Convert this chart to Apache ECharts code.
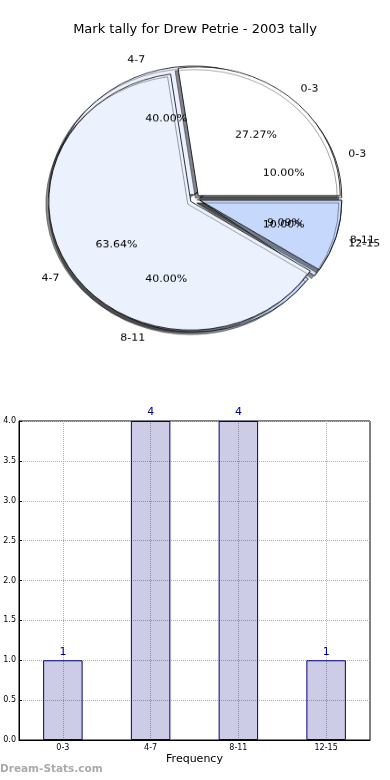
<!DOCTYPE html>
<html><head><meta charset="utf-8">
<script src="https://cdn.jsdelivr.net/npm/echarts@6/dist/echarts.min.js"></script>
<style>
html,body{margin:0;padding:0;background:#fff;}
#bar{position:absolute;left:0;top:0;width:390px;height:780px;}
#pie{position:absolute;left:0;top:0;width:390px;height:480px;transform:scaleY(0.906);transform-origin:0 0;}
</style></head><body>
<div id="bar"></div><div id="pie"></div>
<script>
const titleText = 'Mark tally for Drew Petrie - 2003 tally';
const watermark = 'Dream-Stats.com';
const categories = ['0-3', '4-7', '8-11', '12-15'];
const frequency = [1, 4, 4, 1];
const outerCategories = ['0-3', '4-7', '8-11'];
const outerValues = [3, 7, 1];
const sliceColors = ['#ffffff', '#ebf1fd', '#c6d9fd', '#d0e2fc'];

const FONT = 'DejaVu Sans';
const C = [195, 219.6];
const R = 142;
const OFF = 5;

function pieData(names, vals, colored) {
  return names.map((n, i) => {
    const d = { name: n, value: vals[i], selected: true };
    if (colored) d.itemStyle = { color: sliceColors[i] };
    return d;
  });
}
function sectorSeries(names, vals, z) {
  return {
    type: 'pie', z: z, center: C, radius: [0, R], startAngle: 0, clockwise: false,
    selectedMode: 'multiple', selectedOffset: OFF, avoidLabelOverlap: false, silent: true,
    label: { show: false }, labelLine: { show: false },
    itemStyle: { borderColor: '#000', borderWidth: 0.8, shadowColor: 'rgba(0,0,0,0.45)', shadowBlur: 0, shadowOffsetX: -3, shadowOffsetY: 3 },
    select: { itemStyle: { borderColor: '#000', borderWidth: 0.8 } },
    emphasis: { disabled: true },
    data: pieData(names, vals, true)
  };
}
function pctSeries(names, vals, z) {
  return {
    type: 'pie', z: z, center: C, radius: [0, R * 1.2], startAngle: 0, clockwise: false,
    selectedMode: 'multiple', selectedOffset: OFF, avoidLabelOverlap: false, silent: true,
    itemStyle: { color: 'rgba(0,0,0,0)', borderWidth: 0 },
    select: { itemStyle: { color: 'rgba(0,0,0,0)', borderWidth: 0 } },
    emphasis: { disabled: true },
    labelLayout: { hideOverlap: false },
    label: { show: true, position: 'inside', formatter: p => p.percent.toFixed(2) + '%', fontSize: 11, color: '#000', fontFamily: FONT },
    labelLine: { show: false },
    data: pieData(names, vals, false)
  };
}
function nameSeries(names, vals, z) {
  return {
    type: 'pie', z: z, center: C, radius: [0, R], startAngle: 0, clockwise: false,
    selectedMode: 'multiple', selectedOffset: OFF, avoidLabelOverlap: false, silent: true,
    itemStyle: { color: 'rgba(0,0,0,0)', borderWidth: 0 },
    select: { itemStyle: { color: 'rgba(0,0,0,0)', borderWidth: 0 } },
    emphasis: { disabled: true },
    labelLayout: { hideOverlap: false },
    label: { show: true, position: 'outside', formatter: '{b}', fontSize: 11, color: '#000', fontFamily: FONT, distanceToLabelLine: 0 },
    labelLine: { show: false, length: R * 0.1, length2: 0 },
    data: pieData(names, vals, false)
  };
}

const pie = echarts.init(document.getElementById('pie'), null, { renderer: 'canvas' });
pie.setOption({
  animation: false,
  series: [
    sectorSeries(categories, frequency, 2),
    sectorSeries(outerCategories, outerValues, 3),
    pctSeries(categories, frequency, 5),
    pctSeries(outerCategories, outerValues, 5),
    nameSeries(categories, frequency, 5),
    nameSeries(outerCategories, outerValues, 5)
  ]
});

const bar = echarts.init(document.getElementById('bar'), null, { renderer: 'canvas' });
bar.setOption({
  animation: false,
  backgroundColor: '#fff',
  title: [
    { text: titleText, left: 'center', top: 23, padding: 0, textStyle: { fontFamily: FONT, fontSize: 13, fontWeight: 'normal', color: '#000' } },
    { text: watermark, left: 0, top: 764, padding: 0, textStyle: { fontFamily: FONT, fontSize: 10.5, fontWeight: 'bold', color: '#aaa' } }
  ],
  grid: { left: 19, right: 20, top: 421, bottom: 40, show: true, borderColor: '#000', borderWidth: 1, backgroundColor: 'transparent' },
  xAxis: {
    type: 'category', data: categories,
    name: 'Frequency', nameLocation: 'middle', nameGap: 14,
    nameTextStyle: { fontFamily: FONT, fontSize: 11, color: '#000' },
    axisLine: { lineStyle: { color: '#000' } },
    axisTick: { alignWithLabel: true, inside: true, length: 3, lineStyle: { color: '#000' } },
    axisLabel: { fontFamily: FONT, fontSize: 8, color: '#000', margin: 4 },
    splitLine: { show: true, alignWithLabel: true, lineStyle: { type: 'dotted', color: '#b0b0b0', width: 1 } }
  },
  yAxis: {
    type: 'value', min: 0, max: 4, interval: 0.5,
    axisLine: { show: true, lineStyle: { color: '#000' } },
    axisTick: { show: true, inside: true, length: 3, lineStyle: { color: '#000' } },
    axisLabel: { fontFamily: FONT, fontSize: 8, color: '#000', margin: 3, formatter: v => v.toFixed(1) },
    splitLine: { show: true, lineStyle: { type: 'dotted', color: '#b0b0b0', width: 1 } }
  },
  series: [{
    type: 'bar', data: frequency, barWidth: '45%',
    itemStyle: { color: 'rgba(0,0,128,0.2)', borderColor: '#000080', borderWidth: 1 },
    label: { show: true, position: 'top', distance: 3, color: '#00008b', fontSize: 11, fontFamily: FONT },
    emphasis: { disabled: true }
  }]
});
</script>
</body></html>
